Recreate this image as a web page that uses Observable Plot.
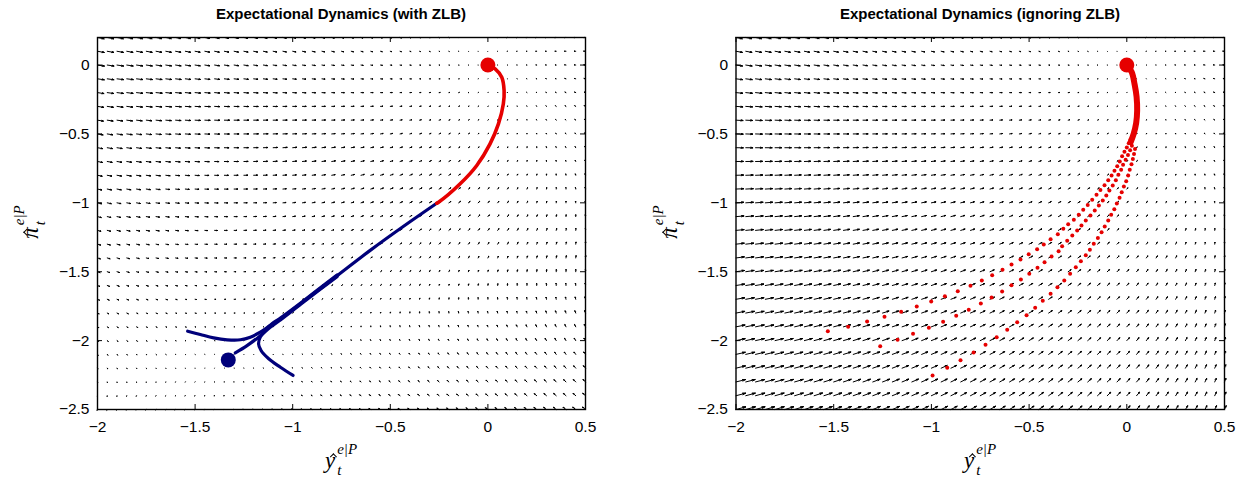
<!DOCTYPE html>
<html><head><meta charset="utf-8">
<script src="https://cdn.jsdelivr.net/npm/d3@7"></script>
<script src="https://cdn.jsdelivr.net/npm/@observablehq/plot@0.6"></script>
<style>
body{margin:0;background:#fff;font-family:"Liberation Sans",Arial,sans-serif}
#wrap{position:relative;width:1247px;height:485px;overflow:hidden;background:#fff}
.panel{position:absolute;top:0}
.title{position:absolute;top:5px;font-weight:bold;font-size:15px;transform:translateX(-50%);white-space:nowrap;color:#000}
.mlab{position:absolute;font-family:"Liberation Serif","DejaVu Serif",serif;font-style:italic;font-size:23px;line-height:1;display:flex;align-items:center;white-space:nowrap;color:#000}
.ss{display:inline-flex;flex-direction:column;font-size:15px;line-height:1.05;margin-left:2px}
.sp{position:relative;top:-3px}
.sb{position:relative;top:2px}
.hat{position:relative;display:inline-block}
.hat .h{position:absolute;width:4px;height:4px;border-top:1.3px solid #000;border-left:1.3px solid #000;transform:rotate(45deg)}
</style></head>
<body><div id="wrap"></div>
<script>
// ---------- data ----------
const xTicks = [-2, -1.5, -1, -0.5, 0, 0.5];
const yTicks = [-2.5, -2, -1.5, -1, -0.5, 0];
const xDomain = [-2, 0.5];
const yDomain = [-2.5, 0.2];
// quiver grid (step 0.05 in y-hat, 0.1 in pi-hat)
const gridX = d3.range(51).map(i => +(-2 + i * 0.05).toFixed(2));
const gridY = d3.range(28).map(j => +(-2.5 + j * 0.1).toFixed(2));
// linear expectational dynamics away from the ZLB
const M1 = [[-0.5, -0.2], [0.104, -0.314]];
// notional policy rate  = zlbRule . z + zlbR ; ZLB binds when negative
const zlbRule = [0.55, 1.0];
const zlbR = 1.1375;
const targetSteady = [0, 0];
const zlbSteady = [-1.33, -2.14];
const arrowScale = [0.036, 0.034];

// left panel trajectories (with ZLB)
const blueA = [[-1.538,-1.932],[-1.473,-1.956],[-1.405,-1.980],[-1.336,-1.994],[-1.268,-1.994],[-1.217,-1.975],[-1.166,-1.939],[-1.115,-1.890],[-1.063,-1.842],[-0.944,-1.715],[-0.773,-1.530],[-0.603,-1.345],[-0.432,-1.170],[-0.262,-1.003]];
const blueB = [[-1.294,-2.089],[-1.234,-2.036],[-1.175,-1.975],[-1.115,-1.903],[-1.063,-1.850],[-0.944,-1.720],[-0.773,-1.536]];
const blueC = [[-0.998,-2.253],[-1.063,-2.193],[-1.123,-2.132],[-1.162,-2.072],[-1.175,-2.023],[-1.166,-1.975],[-1.140,-1.927],[-1.106,-1.878],[-1.063,-1.836],[-0.944,-1.710],[-0.773,-1.524]];
const redLeft = [[-0.262,-1.003],[-0.253,-0.996],[-0.142,-0.862],[-0.057,-0.729],[0.011,-0.572],[0.054,-0.427],[0.079,-0.282],[0.083,-0.185],[0.071,-0.089],[0.037,-0.028],[0.0,0.0]];

// right panel trajectories (ignoring ZLB): discrete dots
const redAx = [-1.530,-1.426,-1.329,-1.240,-1.155,-1.075,-1.001,-0.931,-0.865,-0.800,-0.742,-0.689,-0.636,-0.590,-0.544,-0.502,-0.459,-0.425,-0.390,-0.353,-0.325,-0.300,-0.271,-0.246,-0.223,-0.200,-0.177,-0.155,-0.135,-0.114,-0.095,-0.078,-0.063,-0.049,-0.036,-0.024,-0.012,0.000,0.010,0.019];
const redAy = [-1.932,-1.900,-1.861,-1.827,-1.791,-1.753,-1.716,-1.678,-1.641,-1.602,-1.564,-1.525,-1.486,-1.448,-1.411,-1.373,-1.337,-1.303,-1.264,-1.228,-1.189,-1.155,-1.123,-1.087,-1.051,-1.015,-0.978,-0.942,-0.906,-0.872,-0.836,-0.802,-0.768,-0.734,-0.700,-0.662,-0.630,-0.598,-0.568,-0.540];
const redBx = [-1.262,-1.173,-1.094,-1.013,-0.940,-0.873,-0.809,-0.747,-0.692,-0.638,-0.590,-0.542,-0.499,-0.457,-0.421,-0.385,-0.349,-0.331,-0.305,-0.279,-0.254,-0.232,-0.210,-0.186,-0.164,-0.143,-0.123,-0.105,-0.089,-0.072,-0.056,-0.043,-0.029,-0.019,-0.006,0.006,0.017,0.026];
const redBy = [-2.041,-1.994,-1.951,-1.907,-1.864,-1.820,-1.776,-1.731,-1.687,-1.644,-1.598,-1.557,-1.515,-1.472,-1.431,-1.390,-1.351,-1.315,-1.276,-1.237,-1.201,-1.165,-1.128,-1.092,-1.056,-1.019,-0.983,-0.947,-0.911,-0.874,-0.836,-0.797,-0.760,-0.724,-0.688,-0.652,-0.618,-0.585];
const redCx = [-0.994,-0.919,-0.851,-0.784,-0.723,-0.666,-0.612,-0.561,-0.513,-0.469,-0.430,-0.390,-0.355,-0.320,-0.290,-0.261,-0.235,-0.210,-0.189,-0.169,-0.148,-0.129,-0.113,-0.095,-0.080,-0.064,-0.051,-0.037,-0.026,-0.015,-0.003,0.007,0.015,0.024,0.031,0.037,0.042];
const redCy = [-2.253,-2.197,-2.142,-2.086,-2.030,-1.975,-1.922,-1.866,-1.816,-1.762,-1.711,-1.660,-1.612,-1.564,-1.515,-1.467,-1.424,-1.380,-1.341,-1.297,-1.256,-1.213,-1.172,-1.128,-1.087,-1.046,-1.005,-0.964,-0.923,-0.882,-0.843,-0.802,-0.760,-0.720,-0.682,-0.645,-0.610];
// dense final approach (dots merge into a band)
const redMerge = [[0.02,-0.56],[0.035,-0.50],[0.048,-0.42],[0.053,-0.33],[0.05,-0.23],[0.04,-0.14],[0.025,-0.05],[0.0,0.0]];

const RED = "#e60000", NAVY = "#00007a";

// ---------- helpers ----------
const g2 = zlbRule[0]*zlbSteady[0] + zlbRule[1]*zlbSteady[1] + zlbR; // notional rate at ZLB steady state (<0)
const M1z2 = [M1[0][0]*zlbSteady[0] + M1[0][1]*zlbSteady[1], M1[1][0]*zlbSteady[0] + M1[1][1]*zlbSteady[1]];
const wZ = [M1z2[0] / -g2, M1z2[1] / -g2];

function fieldAt(y, p, withZLB) {
  const dy = y - targetSteady[0], dp = p - targetSteady[1];
  let vy = M1[0][0]*dy + M1[0][1]*dp;
  let vp = M1[1][0]*dy + M1[1][1]*dp;
  if (withZLB) {
    const n = zlbRule[0]*y + zlbRule[1]*p + zlbR;
    if (n < 0) { vy += wZ[0]*n; vp += wZ[1]*n; }
  }
  return [vy, vp];
}

function quiver(withZLB, s) {
  const pts = [];
  const alpha = 0.33, beta = 0.33;
  let id = 0;
  for (const x of gridX) for (const y of gridY) {
    const [fy, fp] = fieldAt(x, y, withZLB);
    const u = fy * s, v = fp * s;
    const tx = x + u, ty = y + v;
    pts.push({id, x, y});
    pts.push({id, x: tx, y: ty});
    pts.push({id, x: tx - alpha*(u + beta*v), y: ty - alpha*(v - beta*u)});
    pts.push({id, x: tx, y: ty});
    pts.push({id, x: tx - alpha*(u - beta*v), y: ty - alpha*(v + beta*u)});
    id++;
  }
  return pts;
}

const fmt = d => (d < 0 ? "\u2212" : "") + Math.abs(d);
const H = 485, TOP = 37, BOTTOM = 76;

function panel(opts) {
  const {width, ml, mr, marks} = opts;
  const pw = width - ml - mr, ph = H - TOP - BOTTOM;
  return Plot.plot({
    width, height: H,
    marginLeft: ml, marginRight: mr, marginTop: TOP, marginBottom: BOTTOM,
    style: {fontSize: "15.5px", fontFamily: "Liberation Sans, Arial, sans-serif", background: "white", color: "black", overflow: "visible"},
    x: {domain: xDomain, ticks: xTicks, tickSize: 0, tickPadding: 11, tickFormat: fmt, label: null},
    y: {domain: yDomain, ticks: yTicks, tickSize: 0, tickPadding: 8, tickFormat: fmt, label: null},
    marks: [
      ...marks,
      Plot.frame({stroke: "black", strokeWidth: 1.4}),
      Plot.tickX(xTicks, {x: d => d, insetTop: ph - 5, stroke: "black"}),
      Plot.tickX(xTicks, {x: d => d, insetBottom: ph - 5, stroke: "black"}),
      Plot.tickY(yTicks, {y: d => d, insetRight: pw - 5, stroke: "black"}),
      Plot.tickY(yTicks, {y: d => d, insetLeft: pw - 5, stroke: "black"})
    ]
  });
}

const arrowStyle = {x: "x", y: "y", z: "id", stroke: "black", strokeWidth: 1, curve: "linear"};
const pairs = (xs, ys) => xs.map((x, i) => [x, ys[i]]);

const left = panel({
  width: 623, ml: 97, mr: 38,
  marks: [
    Plot.line(quiver(true, arrowScale[0]), arrowStyle),
    Plot.line(blueA, {x: d => d[0], y: d => d[1], stroke: NAVY, strokeWidth: 3.2, strokeLinecap: "round", curve: "catmull-rom"}),
    Plot.line(blueB, {x: d => d[0], y: d => d[1], stroke: NAVY, strokeWidth: 3.2, strokeLinecap: "round", curve: "catmull-rom"}),
    Plot.line(blueC, {x: d => d[0], y: d => d[1], stroke: NAVY, strokeWidth: 3.2, strokeLinecap: "round", curve: "catmull-rom"}),
    Plot.line(redLeft, {x: d => d[0], y: d => d[1], stroke: RED, strokeWidth: 3.6, strokeLinecap: "round", curve: "catmull-rom"}),
    Plot.dot([targetSteady], {x: d => d[0], y: d => d[1], r: 7.5, fill: RED, stroke: null}),
    Plot.dot([zlbSteady], {x: d => d[0], y: d => d[1], r: 7.5, fill: NAVY, stroke: null})
  ]
});

const right = panel({
  width: 624, ml: 112.5, mr: 23,
  marks: [
    Plot.line(quiver(false, arrowScale[1]), arrowStyle),
    Plot.line(redMerge, {x: d => d[0], y: d => d[1], stroke: RED, strokeWidth: 6, strokeLinecap: "round", curve: "catmull-rom"}),
    Plot.dot(pairs(redAx, redAy), {x: d => d[0], y: d => d[1], r: 2, fill: RED, stroke: null}),
    Plot.dot(pairs(redBx, redBy), {x: d => d[0], y: d => d[1], r: 2, fill: RED, stroke: null}),
    Plot.dot(pairs(redCx, redCy), {x: d => d[0], y: d => d[1], r: 2, fill: RED, stroke: null}),
    Plot.dot([targetSteady], {x: d => d[0], y: d => d[1], r: 7.5, fill: RED, stroke: null})
  ]
});

const wrap = document.getElementById("wrap");
const pl = document.createElement("div"); pl.className = "panel"; pl.style.left = "0px"; pl.appendChild(left); wrap.appendChild(pl);
const pr = document.createElement("div"); pr.className = "panel"; pr.style.left = "623px"; pr.appendChild(right); wrap.appendChild(pr);

function addTitle(text, cx) {
  const t = document.createElement("div"); t.className = "title"; t.textContent = text; t.style.left = cx + "px"; wrap.appendChild(t);
}
addTitle("Expectational Dynamics (with ZLB)", 341);
addTitle("Expectational Dynamics (ignoring ZLB)", 980);

function mathLabel(base, cx, cy, rotate, hatLeft, hatTop) {
  const d = document.createElement("div"); d.className = "mlab";
  d.innerHTML = `<span class="hat">${base}<span class="h" style="left:${hatLeft}px;top:${hatTop}px"></span></span><span class="ss"><span class="sp">e|P</span><span class="sb">t</span></span>`;
  d.style.left = cx + "px"; d.style.top = cy + "px";
  d.style.transform = rotate ? "translate(-50%,-50%) rotate(-90deg)" : "translate(-50%,-50%)";
  wrap.appendChild(d);
}
mathLabel("y", 341, 461, false, 6, 5);
mathLabel("y", 980, 461, false, 6, 5);
mathLabel("\u03c0", 31, 222, true, 4, 5);
mathLabel("\u03c0", 670, 222, true, 4, 5);
</script>
</body></html>
